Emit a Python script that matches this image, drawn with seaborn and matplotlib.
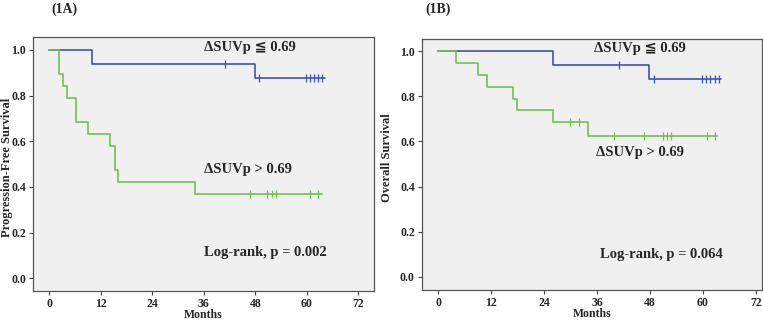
import matplotlib
matplotlib.use('Agg')
import matplotlib.pyplot as plt
import numpy as np
import pandas as pd
import seaborn as sns

# (1A) Progression-free survival - step times / survival values, last time = end of follow-up
pfs_low_t = [0, 10, 48, 64.2]
pfs_low_s = [1.0, 0.9375, 0.875, 0.875]
pfs_low_cens = [41, 48.8, 59.8, 60.8, 61.7, 62.6, 63.6]
pfs_high_t = [0, 2.2, 3.2, 4.2, 6.2, 9.1, 14.1, 15.2, 16.1, 33.9, 63.5]
pfs_high_s = [1.0, 0.895, 0.842, 0.789, 0.684, 0.632, 0.579, 0.474, 0.421, 0.368, 0.368]
pfs_high_cens = [46.8, 50.8, 51.8, 52.8, 60.8, 62.7]

# (1B) Overall survival
os_low_t = [0, 25.9, 47.8, 64.0]
os_low_s = [1.0, 0.9375, 0.875, 0.875]
os_low_cens = [40.9, 48.8, 59.7, 60.7, 61.7, 62.7, 63.7]
os_high_t = [0, 4.0, 8.9, 11.0, 17.0, 17.9, 25.9, 33.9, 63.1]
os_high_s = [1.0, 0.947, 0.895, 0.842, 0.789, 0.737, 0.684, 0.622, 0.622]
os_high_cens = [29.9, 31.8, 39.8, 46.7, 50.9, 51.8, 52.8, 60.9, 62.7]

xticks = [0, 12, 24, 36, 48, 60, 72]
yticks = [0.0, 0.2, 0.4, 0.6, 0.8, 1.0]
low_label = 'ΔSUVp ≦ 0.69'
high_label = 'ΔSUVp > 0.69'

BLUE = '#4052b3'
GREEN = '#72c04e'

sns.set_style('ticks')
plt.rcParams['font.family'] = ['Liberation Serif', 'DejaVu Serif', 'DejaVu Sans', 'Noto Sans CJK JP']
plt.rcParams['font.weight'] = 'bold'


def km_curve(ax, t, s, cens, color):
    df = pd.DataFrame({'t': t, 's': s})
    sns.lineplot(data=df, x='t', y='s', ax=ax, color=color, lw=1.2,
                 drawstyle='steps-post', estimator=None, sort=False)
    # survival value at each censoring time
    idx = np.searchsorted(np.array(t), np.array(cens), side='right') - 1
    cdf = pd.DataFrame({'t': cens, 's': np.array(s)[idx]})
    sns.scatterplot(data=cdf, x='t', y='s', ax=ax, color=color, marker='|',
                    s=30, linewidth=0.9)


fig = plt.figure(figsize=(7.63, 3.21), dpi=100)
ax1 = fig.add_axes([0.0433, 0.0935, 0.447, 0.791])
ax2 = fig.add_axes([0.5527, 0.0966, 0.446, 0.781])

panels = [
    (ax1, pfs_low_t, pfs_low_s, pfs_low_cens, pfs_high_t, pfs_high_s, pfs_high_cens,
     'Progression-Free Survival', (-3.8, 75.7), (-0.056, 1.056), (-0.060, 0.488),
     (46.8, 1.01), (46.4, 0.474), (50.3, 0.113), 'Log-rank, p = 0.002'),
    (ax2, os_low_t, os_low_s, os_low_cens, os_high_t, os_high_s, os_high_cens,
     'Overall Survival', (-3.8, 73.4), (-0.058, 1.052), (-0.085, 0.526),
     (45.7, 1.013), (45.7, 0.549), (50.5, 0.097), 'Log-rank, p = 0.064'),
]

for (ax, lt, ls, lc, ht, hs, hc, ylab, xl, yl, ylpos, p_low, p_high, p_lr, lr) in panels:
    ax.set_facecolor('#f0f0f0')
    km_curve(ax, lt, ls, lc, BLUE)
    km_curve(ax, ht, hs, hc, GREEN)
    ax.set_xlim(*xl)
    ax.set_ylim(*yl)
    ax.set_xticks(xticks)
    ax.set_yticks(yticks)
    ax.set_yticklabels([f'{v:.1f}' for v in yticks])
    ax.tick_params(labelsize=8.5, length=3, width=0.8, color='#444444', pad=2)
    for sp in ax.spines.values():
        sp.set_visible(True)
        sp.set_color('#555555')
        sp.set_linewidth(0.9)
    ax.set_xlabel('Months', fontsize=8.5, fontweight='bold')
    ax.set_ylabel(ylab, fontsize=9, fontweight='bold')
    ax.xaxis.set_label_coords(0.5, -0.072)
    ax.yaxis.set_label_coords(*ylpos)
    ax.text(*p_low, low_label, ha='center', va='center', fontsize=10.5, fontweight='bold')
    ax.text(*p_high, high_label, ha='center', va='center', fontsize=10.5, fontweight='bold')
    ax.text(*p_lr, lr, ha='center', va='center', fontsize=10.5, fontweight='bold')

fig.text(0.085, 0.972, '(1A)', ha='center', va='center', fontsize=10, fontweight='bold')
fig.text(0.574, 0.972, '(1B)', ha='center', va='center', fontsize=10, fontweight='bold')

fig.savefig('out.png', dpi=100)
